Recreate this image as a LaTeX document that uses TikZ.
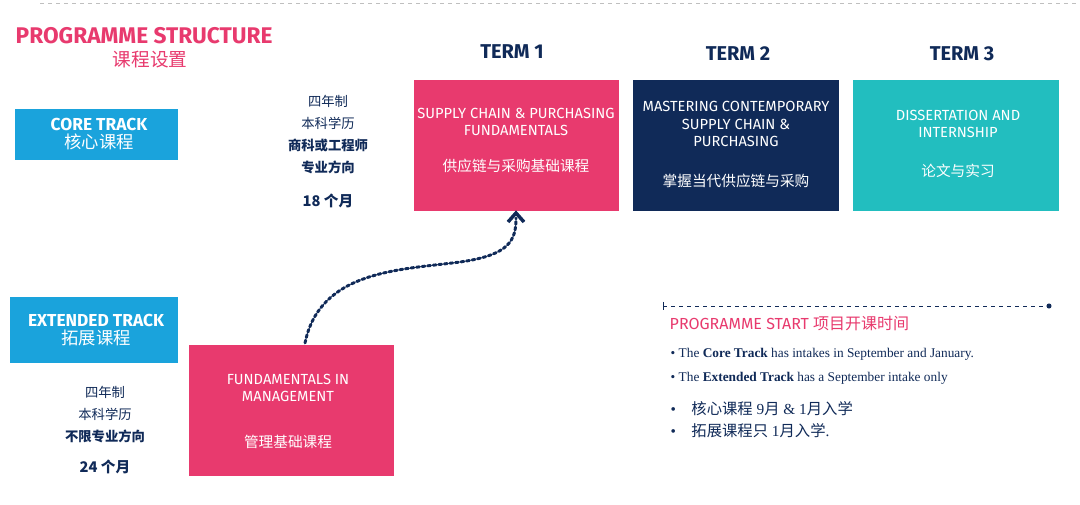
\documentclass[tikz,border=0pt]{standalone}
\usepackage{fontspec}
\setmainfont{Liberation Serif}
\setsansfont{Fira Sans}
\newfontfamily\cjk{Noto Sans CJK SC}
\definecolor{pink}{HTML}{E83A6E}
\definecolor{sky}{HTML}{1AA3DC}
\definecolor{navy}{HTML}{102A58}
\definecolor{teal}{HTML}{22BEBF}
\tikzset{
 box/.style={inner sep=0pt,outer sep=0pt},
 lbl/.style={text=white,align=center,font=\sffamily\fontsize{11}{13}\selectfont},
 term/.style={font=\sffamily\bfseries\fontsize{15}{17}\selectfont,text=navy},
 info/.style={text=navy,align=center,font=\cjk\fontsize{10}{16.5}\selectfont},
 bul/.style={anchor=west,text=navy,font=\fontsize{10}{12}\selectfont},
}
\begin{document}
\begin{tikzpicture}[x=0.75pt,y=-0.75pt]
\useasboundingbox (0,0) rectangle (1080,505);
\fill[white] (0,0) rectangle (1080,505);
\draw[gray!50,dashed] (40,3) -- (1080,3);
\node[anchor=west,text=pink,font=\sffamily\bfseries\fontsize{17}{19}\selectfont] (title) at (11,36) {PROGRAMME STRUCTURE};
\node[text=pink,font=\cjk\fontsize{14}{16}\selectfont] (titlecn) at (150,60) {课程设置};
% tracks
\fill[sky] (15,109) rectangle (178,160);
\node[lbl,font=\sffamily\fontsize{13}{15}\selectfont] (core) at (99,134) {{\bfseries CORE TRACK}\\[-1pt]{\cjk 核心课程}};
\fill[sky] (10,297) rectangle (178,363);
\node[lbl,font=\sffamily\fontsize{13}{15}\selectfont] (ext) at (96,330) {{\bfseries EXTENDED TRACK}\\[-1pt]{\cjk 拓展课程}};
% info texts
\node[info] (coreinfo) at (328,135) {四年制\\本科学历\\\textbf{商科或工程师}\\\textbf{专业方向}};
\node[info,font=\cjk\bfseries\fontsize{11}{13}\selectfont] (core18) at (328,201) {18 个月};
\node[info] (extinfo) at (105,415) {四年制\\本科学历\\\textbf{不限专业方向}};
\node[info,font=\cjk\bfseries\fontsize{11}{13}\selectfont] (ext24) at (105,467) {24 个月};
% terms
\node[term] (t1) at (512,52) {TERM 1};
\node[term] (t2) at (738,54) {TERM 2};
\node[term] (t3) at (962,54) {TERM 3};
\fill[pink] (414,80) rectangle (619,211);
\node[box] (b1) at (516,146) {};
\node[lbl] at (516,122) {SUPPLY CHAIN \& PURCHASING\\FUNDAMENTALS};
\node[lbl,font=\cjk\fontsize{11}{13}\selectfont] at (516,166) {供应链与采购基础课程};
\fill[navy] (633,80) rectangle (839,211);
\node[lbl] at (736,124) {MASTERING CONTEMPORARY\\SUPPLY CHAIN \&\\PURCHASING};
\node[lbl,font=\cjk\fontsize{11}{13}\selectfont] at (736,181) {掌握当代供应链与采购};
\fill[teal] (853,80) rectangle (1059,211);
\node[lbl] at (958,124) {DISSERTATION AND\\INTERNSHIP};
\node[lbl,font=\cjk\fontsize{11}{13}\selectfont] at (958,171) {论文与实习};
\fill[pink] (189,345) rectangle (394,476);
\node[box] (fm) at (291,410) {};
\node[lbl] at (288,388) {FUNDAMENTALS IN\\MANAGEMENT};
\node[lbl,font=\cjk\fontsize{11}{13}\selectfont] at (288,442) {管理基础课程};
% connector
\coordinate (cs) at (305,343);
\coordinate (ce) at (516,218);
\draw[navy,line width=2.2pt,dotted,line cap=round] (cs) .. controls (320,270) and (400,270) .. (460,262) .. controls (510,255) and (516,240) .. (ce);
\draw[navy,line width=2.6pt] (508,222) -- (516,213) -- (524,222);
% programme start
\coordinate (ls) at (663,306);
\coordinate (le) at (1049,306);
\draw[navy,dashed] (ls) -- (le);
\draw[navy] (663,302) -- (663,310);
\fill[navy] (le) circle (1.9pt);
\node[anchor=west,text=pink,font=\sffamily\fontsize{12}{14}\selectfont] (ps) at (665,323) {PROGRAMME START {\cjk 项目开课时间}};
\node[bul] (b1t) at (666,354) {\textbullet\ The \textbf{Core Track} has intakes in September and January.};
\node[bul] (b2t) at (666,378) {\textbullet\ The \textbf{Extended Track} has a September intake only};
\node[bul,font=\fontsize{11.5}{13}\selectfont] (b3t) at (666,409) {\textbullet\quad{\cjk 核心课程} 9{\cjk 月} \& 1{\cjk 月入学}};
\node[bul,font=\fontsize{11.5}{13}\selectfont] (b4t) at (666,431) {\textbullet\quad{\cjk 拓展课程只} 1{\cjk 月入学}.};
\end{tikzpicture}
\end{document}
